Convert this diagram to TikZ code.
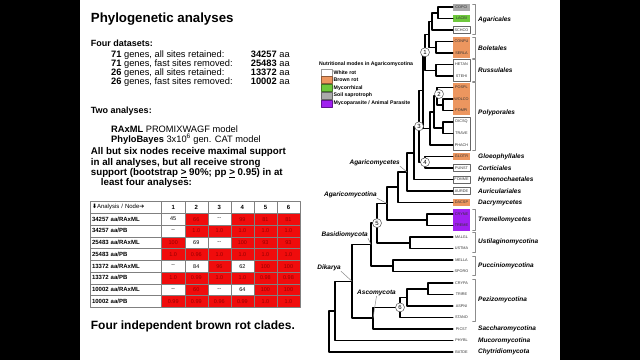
\documentclass[tikz,border=0pt]{standalone}
\usepackage{fontspec}
\setmainfont{Liberation Sans}
\newfontfamily\arrowfont{DejaVu Sans}
\definecolor{brownrot}{RGB}{236,150,95}
\definecolor{mycorrhizal}{RGB}{110,200,60}
\definecolor{saprotroph}{RGB}{170,170,170}
\definecolor{parasite}{RGB}{160,32,240}
\definecolor{cellr}{RGB}{240,12,12}
\definecolor{cellw}{RGB}{255,255,255}
\definecolor{txtr}{RGB}{150,0,0}
\definecolor{txtw}{RGB}{0,0,0}

\begin{document}
\begin{tikzpicture}[x=1pt,y=-1pt,line cap=round,line join=round,
  title/.style={anchor=base west,inner sep=0pt,font=\fontsize{13.3}{16}\selectfont\bfseries},
  head/.style={anchor=base west,inner sep=0pt,font=\fontsize{9}{11}\selectfont\bfseries},
  para/.style={anchor=base west,inner sep=0pt,font=\fontsize{9.75}{12}\selectfont\bfseries},
  body/.style={anchor=base west,inner sep=0pt,font=\fontsize{9.3}{11}\selectfont},
  cell/.style={draw=black!50,line width=0.5pt,minimum width=23.05pt,minimum height=11.75pt,inner sep=0pt,font=\fontsize{5.5}{6}\selectfont},
  lab/.style={draw=black!50,line width=0.5pt,minimum height=11.75pt,inner xsep=2pt,inner ysep=0pt,text width=67.7pt,align=left,font=\fontsize{6}{7}\selectfont\bfseries},
  branch/.style={line width=1.5pt},
  leaf/.style={minimum width=17pt,minimum height=6pt,inner sep=0pt,text=black!80,font=\fontsize{3.8}{4}\selectfont},
  clade/.style={anchor=west,inner sep=0pt,font=\fontsize{6.5}{7}\selectfont\bfseries\itshape},
  bracket/.style={draw=black!45,line width=0.5pt},
  leader/.style={draw=black!45,line width=0.5pt},
  support/.style={circle,draw=black!70,fill=white,line width=0.5pt,minimum size=9pt,inner sep=0pt,font=\fontsize{6}{6}\selectfont},
  legtext/.style={anchor=west,inner sep=0pt,font=\fontsize{5.2}{6}\selectfont\bfseries},
  modekey/.style={minimum width=11.6pt,minimum height=7.2pt,inner sep=0pt,line width=0.4pt}]
\useasboundingbox (0,0) rectangle (640,360);
\fill[black] (0,0) rectangle (640,360);
\fill[white] (80,0) rectangle (560,360);

% left panel
\node[title] (ttl) at (90.7,22) {Phylogenetic analyses};
\node[head] (hds) at (90.7,46) {Four datasets:};
\foreach \g/\s/\n [count=\i] in {71/all sites retained/34257,71/fast sites removed/25483,26/all sites retained/13372,26/fast sites removed/10002}{
  \node[body] (ds\i) at (111,{48+9*\i}) {\textbf{\g} genes, \s:};
  \node[body] (aa\i) at (250.7,{48+9*\i}) {\textbf{\n} aa};
}
\node[head] (han) at (90.7,113) {Two analyses:};
\node[body] (rax) at (111,132.3) {\textbf{RAxML} PROMIXWAGF model};
\node[body] (pbs) at (111,142.3) {\textbf{PhyloBayes} 3x10\textsuperscript{6} gen. CAT model};
\node[para] (sup1) at (90.7,154.3) {All but six nodes receive maximal support};
\node[para] (sup2) at (90.7,165) {in all analyses, but all receive strong};
\node[para] (sup3) at (90.7,175.5) {support (bootstrap \underline{>} 90\%; pp \underline{>} 0.95) in at};
\node[para] (sup4) at (100.7,185.8) {least four analyses:};

% support table
\node[lab] (h0) at (125.85,207.4) {{\arrowfont\bfseries ⬇}\mdseries Analysis / Node{\arrowfont\bfseries ➔}};
\foreach \c in {1,...,6}
  \node[cell,font=\fontsize{6}{6}\selectfont\bfseries] (h\c) at ({161.7+23.05*(\c-0.5)},207.4) {\c};
\foreach \n/\an/\cells [count=\r] in {
  34257/RAxML/{45/w,66/r,-{}-/w,99/r,81/r,81/r},
  34257/PB/{-{}-/w,1.0/r,1.0/r,1.0/r,1.0/r,1.0/r},
  25483/RAxML/{100/r,69/w,-{}-/w,100/r,93/r,93/r},
  25483/PB/{1.0/r,0.96/r,1.0/r,1.0/r,1.0/r,1.0/r},
  13372/RAxML/{-{}-/w,84/w,96/r,62/w,100/r,100/r},
  13372/PB/{1.0/r,0.99/r,1.0/r,1.0/r,0.98/r,0.98/r},
  10002/RAxML/{-{}-/w,60/r,-{}-/w,64/w,100/r,100/r},
  10002/PB/{0.99/r,0.99/r,0.96/r,0.99/r,1.0/r,1.0/r}}{
  \node[lab] (l\r) at (125.85,{201.5+11.75*(\r+0.5)}) {\n\ aa/\an};
  \foreach \v/\f [count=\c] in \cells
    \node[cell,fill=cell\f,text=txt\f] (c\r-\c) at ({161.7+23.05*(\c-0.5)},{201.5+11.75*(\r+0.5)}) {\v};
}
\node[anchor=base west,inner sep=0pt,font=\fontsize{12}{14}\selectfont\bfseries] (brc) at (90.7,329.3) {Four independent brown rot clades.};

% legend
\node[legtext] (lgt) at (319,64) {Nutritional modes in Agaricomycotina};
\foreach \col/\txt [count=\i from 0] in {white/White rot,brownrot/Brown rot,mycorrhizal/Mycorrhizal,saprotroph/Soil saprotroph,parasite/{Mycoparasite / Animal Parasite}}{
  \node[modekey,fill=\col,draw=\col!60!black] (key\i) at (326.5,{72.3+7.75*\i}) {};
  \node[legtext] (mode\i) at (333.5,{72.3+7.75*\i}) {\txt};
}

% coloured taxon boxes
\fill[saprotroph] (453,3.5) rectangle (470,10.5);
\fill[mycorrhizal] (453,15) rectangle (470,22);
\draw[black!60,line width=0.6pt] (453,26.5) rectangle (470,33.5);
\fill[brownrot] (453,37) rectangle (470,58);
\draw[black!60,line width=0.6pt] (453,59.5) rectangle (470,81);
\fill[brownrot] (453,82.5) rectangle (470,115);
\draw[black!60,line width=0.6pt] (453,117) rectangle (470,150);
\fill[brownrot] (453,153) rectangle (470,160);
\draw[black!60,line width=0.6pt] (453,164.5) rectangle (470,171.5);
\draw[black!60,line width=0.6pt] (453,176) rectangle (470,183);
\draw[black!60,line width=0.6pt] (453,187.5) rectangle (470,194.5);
\fill[brownrot] (453,199) rectangle (470,206);
\fill[parasite] (453,209) rectangle (470,230.5);

% leaves
\foreach \tx [count=\i from 0] in {COPCI,LACBI,SCHCO,CONPU,SERLA,HETAN,STEHI,POSPL,WOLCO,FOMPI,DICSQ,TRAVE,PHACH,GLOTR,PUNST,FOMME,AURDE,DACSP,CRYNE,TREME,MALGL,USTMA,MELLA,SPORO,CRYPA,TRIRE,ASPNI,STANO,PICST,PHYBL,BATDE}
  \node[leaf] (\tx) at (461.5,{7+11.5*\i}) {\tx};

% internal nodes
\coordinate (cl) at (438,12.75);
\coordinate (agar) at (432,21.4);
\coordinate (bolt) at (436,47.25);
\coordinate (agbo) at (429,34.3);
\coordinate (russ) at (436,70.25);
\coordinate (nd1) at (425,52.3);
\coordinate (wf) at (443,104.75);
\coordinate (nd2) at (437,96.1);
\coordinate (dt) at (443,127.75);
\coordinate (pd) at (434,111.9);
\coordinate (poly) at (430,128.5);
\coordinate (nd1p) at (423,90.4);
\coordinate (nd4) at (425,162.25);
\coordinate (nd3) at (419,126.3);
\coordinate (fm) at (414,152.9);
\coordinate (agcs) at (407,172);
\coordinate (dac) at (398,187.2);
\coordinate (trem) at (427,219.75);
\coordinate (agco) at (387,203.5);
\coordinate (ustl) at (410,242.75);
\coordinate (nd5) at (377,223.1);
\coordinate (pucc) at (393,265.75);
\coordinate (basi) at (371,244.4);
\coordinate (ct) at (428,288.75);
\coordinate (cta) at (407,297.4);
\coordinate (nd6) at (400,307.4);
\coordinate (asco) at (373,318.2);
\coordinate (dika) at (352,281.3);
\coordinate (muco) at (335,310.9);
\coordinate (root) at (329,331.5);

% branches
\draw[branch] (COPCI.west) -| (cl) |- (LACBI.west);
\draw[branch] (cl) -| (agar) |- (SCHCO.west);
\draw[branch] (CONPU.west) -| (bolt) |- (SERLA.west);
\draw[branch] (agar) -| (agbo) |- (bolt);
\draw[branch] (HETAN.west) -| (russ) |- (STEHI.west);
\draw[branch] (agbo) -| (nd1) |- (russ);
\draw[branch] (WOLCO.west) -| (wf) |- (FOMPI.west);
\draw[branch] (POSPL.west) -| (nd2) |- (wf);
\draw[branch] (DICSQ.west) -| (dt) |- (TRAVE.west);
\draw[branch] (nd2) -| (pd) |- (dt);
\draw[branch] (pd) -| (poly) |- (PHACH.west);
\draw[branch] (nd1) -| (nd1p) |- (poly);
\draw[branch] (GLOTR.west) -| (nd4) |- (PUNST.west);
\draw[branch] (nd1p) -| (nd3) |- (nd4);
\draw[branch] (nd3) -| (fm) |- (FOMME.west);
\draw[branch] (fm) -| (agcs) |- (AURDE.west);
\draw[branch] (agcs) -| (dac) |- (DACSP.west);
\draw[branch] (CRYNE.west) -| (trem) |- (TREME.west);
\draw[branch] (dac) -| (agco) |- (trem);
\draw[branch] (MALGL.west) -| (ustl) |- (USTMA.west);
\draw[branch] (agco) -| (nd5) |- (ustl);
\draw[branch] (MELLA.west) -| (pucc) |- (SPORO.west);
\draw[branch] (nd5) -| (basi) |- (pucc);
\draw[branch] (CRYPA.west) -| (ct) |- (TRIRE.west);
\draw[branch] (ct) -| (cta) |- (ASPNI.west);
\draw[branch] (cta) -| (nd6) |- (STANO.west);
\draw[branch] (nd6) -| (asco) |- (PICST.west);
\draw[branch] (basi) -| (dika) |- (asco);
\draw[branch] (dika) -| (muco) |- (PHYBL.west);
\draw[branch] (muco) -| (root) |- (BATDE.west);

% supported nodes
\node[support] (s1) at (nd1) {1};
\node[support] (s2) at (439,94) {2};
\node[support] (s3) at (nd3) {3};
\node[support] (s4) at (nd4) {4};
\node[support] (s5) at (nd5) {5};
\node[support] (s6) at (nd6) {6};

% group labels on the tree
\node[clade,anchor=east] (lagcs) at (400,163) {Agaricomycetes};
\node[clade,anchor=east] (lagco) at (377,195) {Agaricomycotina};
\node[clade,anchor=east] (lbasi) at (368,235) {Basidiomycota};
\node[clade,anchor=east] (ldika) at (341,268) {Dikarya};
\node[clade] (lasco) at (357,293) {Ascomycota};
\draw[leader] (lagcs.south east) -- (agcs);
\draw[leader] (lagco.south east) -- (agco);
\draw[leader] (lbasi.south east) -- (basi);
\draw[leader] (ldika.south east) -- (dika);
\draw[leader] (lasco.south) -- (asco);

% brackets
\foreach \ya/\yb in {4/34,37/58,59.5/81,82.5/150,209/230.5,232/252,256/275,279/321}
  \draw[bracket] (472.5,\ya) -- (475.5,\ya) -- (475.5,\yb) -- (472.5,\yb);

% clade names
\foreach \nm/\yc in {Agaricales/20,Boletales/48,Russulales/70,Polyporales/113,Gloeophyllales/156.5,Corticiales/168,Hymenochaetales/179.5,Auriculariales/191,Dacrymycetes/202.5,Tremellomycetes/220,Ustilaginomycotina/242,Pucciniomycotina/265.5,Pezizomycotina/300,Saccharomycotina/329,Mucoromycotina/340.5,Chytridiomycota/352}
  \node[clade] (n\nm) at (478,\yc) {\nm};
\end{tikzpicture}
\end{document}
